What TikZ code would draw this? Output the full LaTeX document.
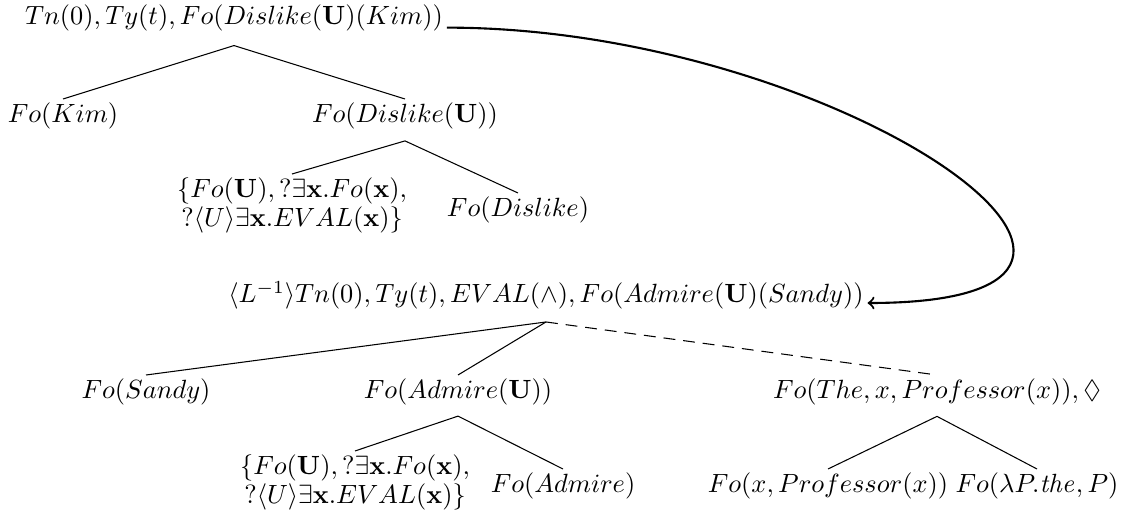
\documentclass[tikz,border=0pt]{standalone}
\usepackage{amssymb}
\begin{document}
\begin{tikzpicture}[x=0.3794pt,y=-0.3794pt,
  lbl/.style={inner sep=1.5pt, outer sep=0pt},
  multi/.style={lbl, align=center},
  edge/.style={line width=0.4pt},
  dashedge/.style={line width=0.4pt, dash pattern=on 4.5pt off 3pt},
  link/.style={line width=0.8pt, ->}]
\useasboundingbox (0,0) rectangle (1133,523);
% upper tree
\node[lbl, anchor=base] (root) at (234,25) {$Tn(0), Ty(t), Fo(Dislike(\mathbf{U})(Kim))$};
\node[lbl, anchor=north] (kim) at (63,99) {$Fo(Kim)$};
\node[lbl, anchor=north] (dislikeU) at (405,99) {$Fo(Dislike(\mathbf{U}))$};
\node[multi, anchor=north] (set1) at (292,174) {$\{Fo(\mathbf{U}), ?\exists\mathbf{x}.Fo(\mathbf{x}),$\\[-1pt]$?\langle U\rangle\exists\mathbf{x}.EVAL(\mathbf{x})\}$};
\node[lbl, anchor=north] (dislike) at (518,193) {$Fo(Dislike)$};
% lower tree
\node[lbl, anchor=base] (lroot) at (546,303) {$\langle L^{-1}\rangle Tn(0), Ty(t), EVAL(\wedge), Fo(Admire(\mathbf{U})(Sandy))$};
\node[lbl, anchor=north] (sandy) at (146,375) {$Fo(Sandy)$};
\node[lbl, anchor=north] (admireU) at (458,375) {$Fo(Admire(\mathbf{U}))$};
\node[lbl, anchor=north] (the) at (937,375) {$Fo(The, x, Professor(x)), \Diamond$};
\node[multi, anchor=north] (set2) at (355,451) {$\{Fo(\mathbf{U}), ?\exists\mathbf{x}.Fo(\mathbf{x}),$\\[-1pt]$?\langle U\rangle\exists\mathbf{x}.EVAL(\mathbf{x})\}$};
\node[lbl, anchor=north] (admire) at (563,469) {$Fo(Admire)$};
\node[lbl, anchor=north] (prof) at (828,469) {$Fo(x, Professor(x))$};
\node[lbl, anchor=north] (lam) at (1037,469) {$Fo(\lambda P.\mathit{the}, P)$};
% edges
\draw[edge] ([yshift=-3.8pt]root.south) -- (kim.north);
\draw[edge] ([yshift=-3.8pt]root.south) -- (dislikeU.north);
\draw[edge] ([yshift=-2.9pt]dislikeU.south) -- (set1.north);
\draw[edge] ([yshift=-2.9pt]dislikeU.south) -- (dislike.north);
\draw[edge] ([yshift=-3.2pt]lroot.south) -- (sandy.north);
\draw[edge] ([yshift=-3.2pt]lroot.south) -- (admireU.north);
\draw[dashedge] ([yshift=-3.2pt]lroot.south) -- (the.north);
\draw[edge] ([yshift=-2.6pt]admireU.south) -- (set2.north);
\draw[edge] ([yshift=-2.6pt]admireU.south) -- (admire.north);
\draw[edge] ([yshift=-2.7pt]the.south) -- (prof.north);
\draw[edge] ([yshift=-2.7pt]the.south) -- (lam.north);
% link arrow
\draw[link] ([yshift=-1pt]root.base east) .. controls +(392,0) and +(366,0) .. (lroot.base east);
\end{tikzpicture}
\end{document}
